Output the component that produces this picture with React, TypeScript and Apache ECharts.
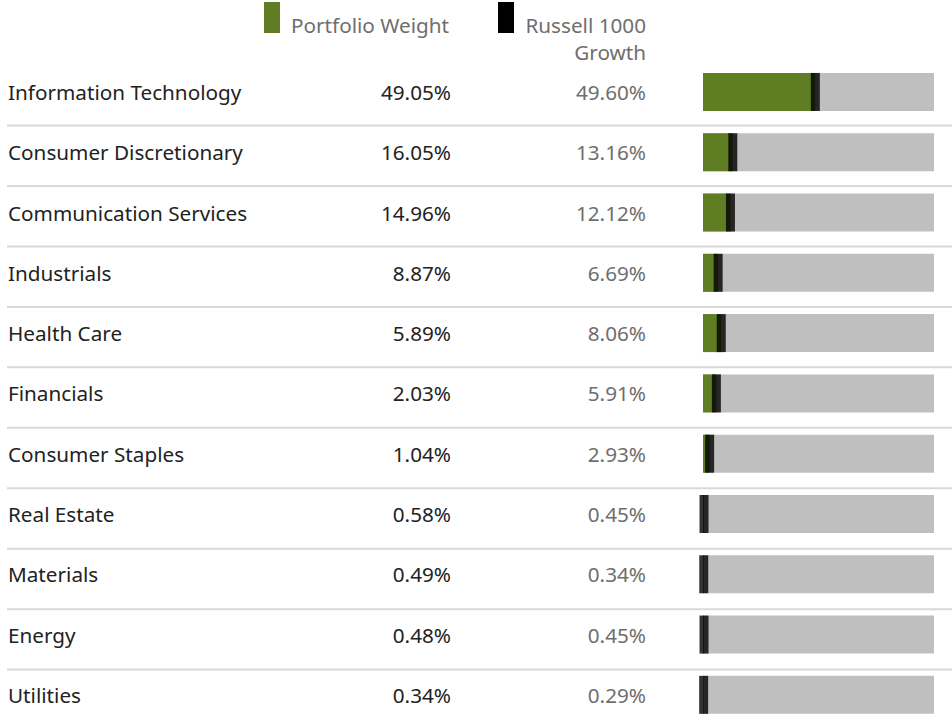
import React, { useEffect, useRef } from "react";
import * as echarts from "echarts";

const categories = [
  "Information Technology",
  "Consumer Discretionary",
  "Communication Services",
  "Industrials",
  "Health Care",
  "Financials",
  "Consumer Staples",
  "Real Estate",
  "Materials",
  "Energy",
  "Utilities",
];
const portfolioWeight = [49.05, 16.05, 14.96, 8.87, 5.89, 2.03, 1.04, 0.58, 0.49, 0.48, 0.34];
const russell1000Growth = [49.6, 13.16, 12.12, 6.69, 8.06, 5.91, 2.93, 0.45, 0.34, 0.45, 0.29];
const seriesNames = ["Portfolio Weight", "Russell 1000 Growth"];
const legendLines = [["Portfolio Weight"], ["Russell 1000", "Growth"]];

const FONT = "'Noto Sans', sans-serif";
const FS = 20.7;
const GREEN = "#5f7e24";
const DARK = "#222222";
const GREY_TEXT = "#6e6e6e";

export default function App() {
  const ref = useRef<HTMLDivElement>(null);
  useEffect(() => {
    const chart = echarts.init(ref.current!, null, { renderer: "svg" });
    const top = 61.8;
    const rowH = 60.45;
    const n = categories.length;
    const seps = categories.slice(0, n - 1).map((_, i) => ({
      type: "line",
      silent: true,
      shape: { x1: 7, y1: top + rowH * (i + 1) + 3.3, x2: 952, y2: top + rowH * (i + 1) + 3.3 },
      style: { stroke: "#d9d9d9", lineWidth: 2 },
    }));
    const yBase = {
      type: "category",
      data: categories,
      inverse: true,
      axisLine: { show: false },
      axisTick: { show: false },
      splitLine: { show: false },
    };
    const fmt = (arr: number[]) => (_v: string, i: number) => arr[i].toFixed(2) + "%";
    chart.setOption({
      animation: false,
      grid: { left: 703, top, width: 231, height: rowH * n },
      xAxis: { type: "value", min: 0, max: 102, show: false },
      yAxis: [
        {
          ...yBase,
          position: "left",
          axisLabel: { interval: 0, align: "left", margin: 695, color: DARK, fontSize: FS, fontFamily: FONT },
        },
        {
          ...yBase,
          position: "left",
          axisLabel: {
            interval: 0,
            align: "right",
            margin: 252,
            color: DARK,
            fontSize: FS,
            fontFamily: FONT,
            formatter: fmt(portfolioWeight),
          },
        },
        {
          ...yBase,
          position: "left",
          axisLabel: {
            interval: 0,
            align: "right",
            margin: 57,
            color: GREY_TEXT,
            fontSize: FS,
            fontFamily: FONT,
            formatter: fmt(russell1000Growth),
          },
        },
      ],
      series: [
        {
          type: "bar",
          name: seriesNames[0],
          yAxisIndex: 0,
          data: russell1000Growth,
          barWidth: 38,
          itemStyle: { color: GREEN },
          showBackground: true,
          backgroundStyle: { color: "#bfbfbf" },
          silent: true,
        },
        {
          type: "scatter",
          name: seriesNames[1],
          yAxisIndex: 0,
          data: russell1000Growth.map((v, i) => [v, i]),
          symbol: "rect",
          symbolSize: [9, 38],
          itemStyle: { color: "#000000" },
          z: 5,
          silent: true,
        },
      ],
      graphic: [
        ...seps,
        { type: "rect", shape: { x: 264, y: 2, width: 16, height: 31 }, style: { fill: GREEN } },
        {
          type: "text",
          x: 291,
          y: 25,
          style: {
            text: legendLines[0][0],
            fill: GREY_TEXT,
            font: `${FS}px ${FONT}`,
            textAlign: "left",
            textVerticalAlign: "middle",
          },
        },
        { type: "rect", shape: { x: 498, y: 2, width: 16, height: 31 }, style: { fill: "#000000" } },
        {
          type: "text",
          x: 646,
          y: 25,
          style: {
            text: legendLines[1][0],
            fill: GREY_TEXT,
            font: `${FS}px ${FONT}`,
            textAlign: "right",
            textVerticalAlign: "middle",
          },
        },
        {
          type: "text",
          x: 646,
          y: 52,
          style: {
            text: legendLines[1][1],
            fill: GREY_TEXT,
            font: `${FS}px ${FONT}`,
            textAlign: "right",
            textVerticalAlign: "middle",
          },
        },
      ],
    });
    return () => chart.dispose();
  }, []);
  return (
    <div
      ref={ref}
      style={{ position: "absolute", left: 0, top: 0, width: 952, height: 725, background: "#ffffff" }}
    />
  );
}
